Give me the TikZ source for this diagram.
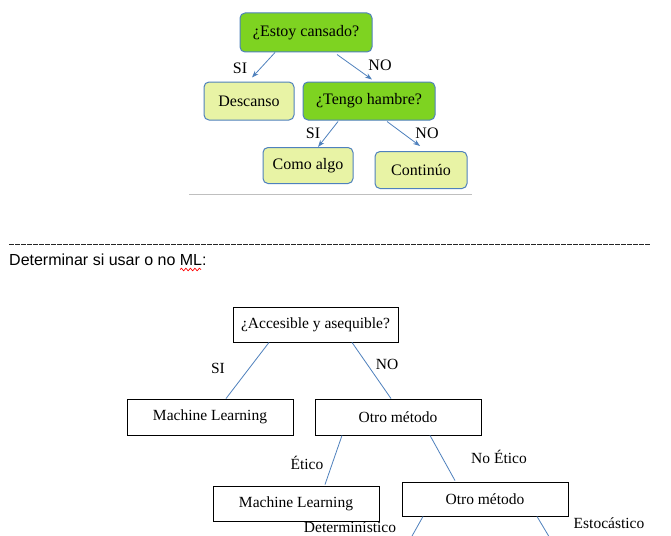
\documentclass[tikz,border=0pt]{standalone}
\usepackage{fontspec}
\setmainfont{Liberation Serif}
\newfontfamily\arialf{Liberation Sans}
\usetikzlibrary{arrows.meta,decorations.pathmorphing}
\definecolor{qgreen}{RGB}{126,211,33}
\definecolor{qlight}{RGB}{232,243,165}
\definecolor{qblue}{RGB}{79,129,189}
\begin{document}
\begin{tikzpicture}[x=1pt,y=-1pt,
  qbase/.style={draw=qblue, line width=1pt, rounded corners=5pt, inner sep=0pt,
    font=\fontsize{16}{19}\selectfont},
  qgreenbox/.style={qbase, fill=qgreen},
  qlightbox/.style={qbase, fill=qlight},
  qarrow/.style={draw=qblue, line width=0.8pt, -{Stealth[length=7pt,width=5pt]}},
  toplab/.style={inner sep=0pt, font=\fontsize{16}{19}\selectfont},
  wbox/.style={draw=black, line width=0.9pt, fill=white, inner sep=0pt,
    minimum width=166pt, minimum height=36pt, font=\fontsize{15.5}{18}\selectfont},
  bline/.style={draw=qblue, line width=0.8pt},
  botlab/.style={inner sep=0pt, font=\fontsize{15.5}{18}\selectfont}]
\useasboundingbox (0,0) rectangle (671,535);
\clip (0,0) rectangle (671,535);
\fill[white] (0,0) rectangle (671,535);

% ---------- top tree ----------
\node[qgreenbox, minimum width=132pt, minimum height=39pt] (n1) at (306,32.5) {¿Estoy cansado?};
\node[qlightbox, minimum width=90pt, minimum height=38pt] (n2) at (249,101) {Descanso};
\node[qgreenbox, minimum width=132pt, minimum height=38pt] (n3) at (369,101) {¿Tengo hambre?};
\node[qlightbox, minimum width=90pt, minimum height=36pt] (n4) at (308,165.5) {Como algo};
\node[qlightbox, minimum width=92pt, minimum height=37pt] (n5) at (421,170) {Continúo};

\draw[qarrow] ([xshift=-31pt]n1.south) -- ([xshift=3pt,yshift=4pt]n2.north);
\draw[qarrow] ([xshift=31pt,yshift=-2pt]n1.south) -- ([xshift=3pt,yshift=2pt]n3.north);
\draw[qarrow] ([xshift=-31pt,yshift=-1pt]n3.south) -- ([xshift=10pt]n4.north);
\draw[qarrow] ([xshift=18pt,yshift=-1pt]n3.south) -- ([xshift=-1pt,yshift=5pt]n5.north);

\node[toplab] (l1) at (240,68) {SI};
\node[toplab] (l2) at (380,65) {NO};
\node[toplab] (l3) at (313,133) {SI};
\node[toplab] (l4) at (427,133) {NO};

\draw[color=black!25, line width=1pt] (189,194.5) -- (472,194.5);

% ---------- separator ----------
\draw[black!85, line width=0.8pt, dash pattern=on 4.5pt off 1.5pt] (9,244) -- (650,244);
\node[anchor=base west, inner sep=0pt, font=\arialf\fontsize{16}{19}\selectfont] (hdr) at (9,265) {Determinar si usar o no ML:};
\draw[red, line width=0.7pt, decorate, decoration={snake, amplitude=1.3pt, segment length=4.5pt}] (180,269.5) -- (201,269.5);

% ---------- bottom tree ----------
\node[wbox, minimum width=165pt, minimum height=35pt] (b1) at (315.5,324.5) {¿Accesible y asequible?};
\node[wbox] (b2) at (210,417) {Machine Learning};
\node[wbox] (b3) at (398,417) {Otro método};
\node[wbox, minimum height=35pt] (b4) at (296,503.5) {Machine Learning};
\node[wbox, minimum height=34pt] (b5) at (485,499) {Otro método};

\coordinate (c1) at (407,545);
\coordinate (c2) at (554,545);

\draw[bline] ([xshift=-46.5pt]b1.south) -- ([xshift=16pt]b2.north);
\draw[bline] ([xshift=36.5pt]b1.south) -- ([xshift=-7pt]b3.north);
\draw[bline] ([xshift=-56pt]b3.south) -- ([xshift=29pt,yshift=1pt]b4.north);
\draw[bline] ([xshift=32pt]b3.south) -- ([xshift=-30pt,yshift=1pt]b5.north);
\draw[bline] ([xshift=-62pt]b5.south) -- (c1);
\draw[bline] ([xshift=52pt]b5.south) -- (c2);

\node[botlab] (m1) at (218,368) {SI};
\node[botlab] (m2) at (387,364) {NO};
\node[botlab] (m3) at (307,463) {Ético};
\node[botlab] (m4) at (499,457) {No Ético};
\node[botlab, anchor=base, text depth=0pt] (m5) at (350,532) {Determinístico};
\node[botlab, anchor=base] (m6) at (609,528) {Estocástico};
\end{tikzpicture}
\end{document}
